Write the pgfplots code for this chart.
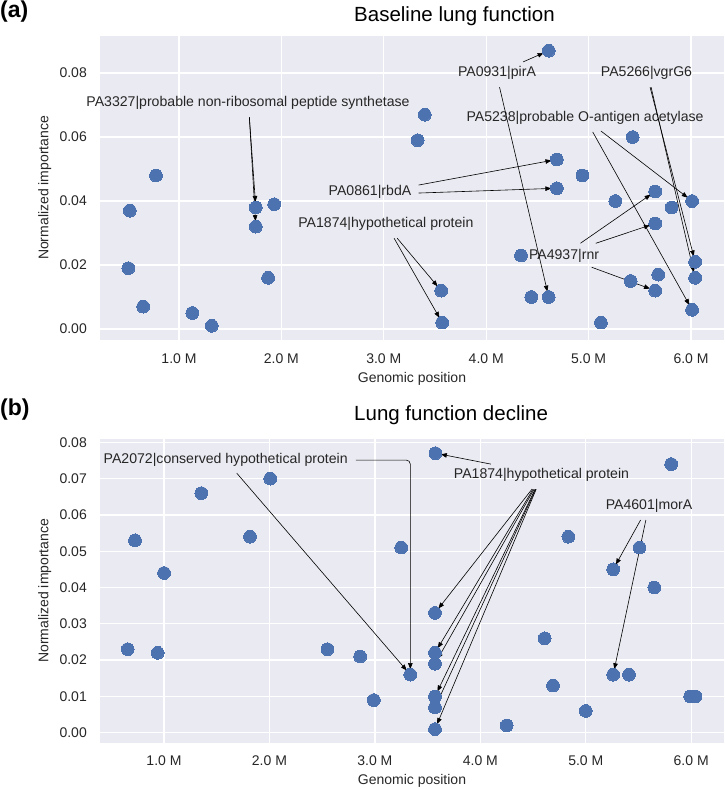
\documentclass[border=0pt]{standalone}
\usepackage{pgfplots}
\pgfplotsset{compat=1.18}
\usepackage{fontspec}
\setmainfont{Liberation Sans}
\usetikzlibrary{arrows.meta}
\definecolor{bgc}{HTML}{EAEAF2}
\definecolor{ptc}{HTML}{4C72B0}
\definecolor{txc}{HTML}{262626}
\pgfplotsset{
  myax/.style={
    scale only axis, clip=false,
    scaled ticks=false,
    axis background/.style={fill=bgc},
    axis line style={draw=none},
    tick style={draw=none},
    grid=major,
    grid style={white, line width=1.3pt},
    xtick={1,2,3,4,5,6},
    xticklabels={1.0 M,2.0 M,3.0 M,4.0 M,5.0 M,6.0 M},
    ticklabel style={font=\fontsize{14}{16}\selectfont, text=txc},
    yticklabel style={anchor=east, inner sep=0pt, xshift=-13pt},
    label style={font=\fontsize{14}{16}\selectfont, text=txc},
    xlabel={Genomic position},
    ylabel={Normalized importance},
  },
  pts/.style={only marks, mark=*, mark size=6.4pt, mark options={fill=ptc, draw=ptc, line width=0pt}},
}
\tikzset{
  arr/.style={-{Triangle[length=6pt,width=4.5pt]}, line width=0.6pt, black, shorten >=5.5pt},
  ann/.style={font=\fontsize{14.1}{16}\selectfont, text=txc, inner sep=0pt},
}
\begin{document}
\begin{tikzpicture}[x=1pt,y=1pt]
\path[use as bounding box] (0,0) rectangle (724,789);
\node[anchor=west, font=\bfseries\fontsize{23}{26}\selectfont, inner sep=0pt] at (0,777) {(a)};
\node[anchor=west, font=\fontsize{20.5}{24}\selectfont, inner sep=0pt, text=black] at (354,773) {Baseline lung function};
\node[anchor=west, font=\bfseries\fontsize{23}{26}\selectfont, inner sep=0pt] at (0,379) {(b)};
\node[anchor=west, font=\fontsize{20.5}{24}\selectfont, inner sep=0pt, text=black] at (354,374) {Lung function decline};

\begin{axis}[myax, at={(100pt,753pt)}, anchor=north west, width=624pt, height=304pt,
  xmin=0.2285, xmax=6.322, ymin=-0.00344, ymax=0.0916,
  ytick={0,0.02,0.04,0.06,0.08}, yticklabels={0.00,0.02,0.04,0.06,0.08},
  xticklabel style={anchor=center, yshift=-19pt},
  xlabel style={at={(axis description cs:0.5,0)}, anchor=center, yshift=-39pt},
  ylabel style={at={(axis description cs:-0.0884,0.5)}, anchor=center},
]
\addplot[pts] table {
x y
0.52 0.037
0.505 0.019
0.65 0.007
0.775 0.048
1.13 0.005
1.32 0.001
1.75 0.038
1.75 0.032
1.93 0.039
1.87 0.016
3.40 0.067
3.33 0.059
3.56 0.012
3.57 0.002
4.34 0.023
4.44 0.010
4.61 0.010
4.61 0.087
4.69 0.053
4.69 0.044
4.94 0.048
5.12 0.002
5.26 0.040
5.43 0.060
5.41 0.015
5.65 0.043
5.65 0.033
5.65 0.012
5.68 0.017
5.81 0.038
6.01 0.040
6.04 0.021
6.04 0.016
6.01 0.006
};
\node[ann] at (axis cs:1.674,0.0706) {PA3327|probable non-ribosomal peptide synthetase};
\node[ann] at (axis cs:4.105,0.0800) {PA0931|pirA};
\node[ann] at (axis cs:5.565,0.0800) {PA5266|vgrG6};
\node[ann] at (axis cs:4.965,0.0660) {PA5238|probable O-antigen acetylase};
\node[ann] at (axis cs:2.865,0.0428) {PA0861|rbdA};
\node[ann] at (axis cs:3.02,0.0328) {PA1874|hypothetical protein};
\node[ann] at (axis cs:4.76,0.0228) {PA4937|rnr};
\draw[arr] (axis cs:1.687,0.0662) -- (axis cs:1.75,0.038);
\draw[arr] (axis cs:1.687,0.0662) -- (axis cs:1.75,0.032);
\draw[arr] (axis cs:4.36,0.0835) -- (axis cs:4.61,0.087);
\draw[arr] (axis cs:4.13,0.0756) -- (axis cs:4.61,0.010);
\draw[arr] (axis cs:5.60,0.0756) -- (axis cs:6.04,0.021);
\draw[arr] (axis cs:5.61,0.0756) -- (axis cs:6.04,0.016);
\draw[arr] (axis cs:5.12,0.0619) -- (axis cs:6.01,0.040);
\draw[arr] (axis cs:5.04,0.0616) -- (axis cs:6.01,0.006);
\draw[arr] (axis cs:3.34,0.0450) -- (axis cs:4.69,0.053);
\draw[arr] (axis cs:3.34,0.0425) -- (axis cs:4.69,0.044);
\draw[arr] (axis cs:3.13,0.0284) -- (axis cs:3.56,0.012);
\draw[arr] (axis cs:3.10,0.0284) -- (axis cs:3.57,0.002);
\draw[arr] (axis cs:4.92,0.0268) -- (axis cs:5.65,0.043);
\draw[arr] (axis cs:5.07,0.0268) -- (axis cs:5.65,0.033);
\draw[arr] (axis cs:5.03,0.0193) -- (axis cs:5.65,0.012);
\end{axis}

\begin{axis}[myax, at={(100pt,350.3pt)}, anchor=north west, width=624pt, height=304pt,
  xmin=0.393, xmax=6.311, ymin=-0.00275, ymax=0.081,
  ytick={0,0.01,0.02,0.03,0.04,0.05,0.06,0.07,0.08},
  yticklabels={0.00,0.01,0.02,0.03,0.04,0.05,0.06,0.07,0.08},
  xticklabel style={anchor=center, yshift=-18pt},
  xlabel style={at={(axis description cs:0.5,0)}, anchor=center, yshift=-38pt},
  ylabel style={at={(axis description cs:-0.0884,0.5)}, anchor=center},
]
\addplot[pts] table {
x y
0.725 0.053
1.00 0.044
1.354 0.066
1.816 0.054
2.008 0.070
0.656 0.023
0.94 0.022
2.55 0.023
2.86 0.021
3.574 0.077
5.81 0.074
3.25 0.051
4.835 0.054
5.51 0.051
5.26 0.045
5.65 0.040
3.57 0.033
3.57 0.022
3.57 0.019
3.336 0.016
2.99 0.009
3.57 0.010
3.57 0.007
3.57 0.001
4.61 0.026
4.69 0.013
4.25 0.002
5.00 0.006
5.26 0.016
5.41 0.016
5.99 0.010
6.04 0.010
};
\node[ann] at (axis cs:1.585,0.0751) {PA2072|conserved hypothetical protein};
\node[ann] at (axis cs:4.58,0.0710) {PA1874|hypothetical protein};
\node[ann] at (axis cs:5.60,0.0625) {PA4601|morA};
\draw[arr, rounded corners=4pt] (axis cs:2.82,0.0751) -- (axis cs:3.336,0.0751) -- (axis cs:3.336,0.016);
\draw[arr] (axis cs:1.69,0.0715) -- (axis cs:3.336,0.016);
\draw[arr] (axis cs:4.10,0.0740) -- (axis cs:3.574,0.077);
\draw[arr] (axis cs:4.49,0.0671) -- (axis cs:3.57,0.033);
\draw[arr] (axis cs:4.50,0.0671) -- (axis cs:3.57,0.022);
\draw[arr] (axis cs:4.51,0.0671) -- (axis cs:3.57,0.019);
\draw[arr] (axis cs:4.52,0.0671) -- (axis cs:3.57,0.010);
\draw[arr] (axis cs:4.525,0.0671) -- (axis cs:3.57,0.007);
\draw[arr] (axis cs:4.53,0.0671) -- (axis cs:3.57,0.001);
\draw[arr] (axis cs:5.52,0.0586) -- (axis cs:5.26,0.045);
\draw[arr] (axis cs:5.57,0.0586) -- (axis cs:5.26,0.016);
\end{axis}
\end{tikzpicture}
\end{document}
